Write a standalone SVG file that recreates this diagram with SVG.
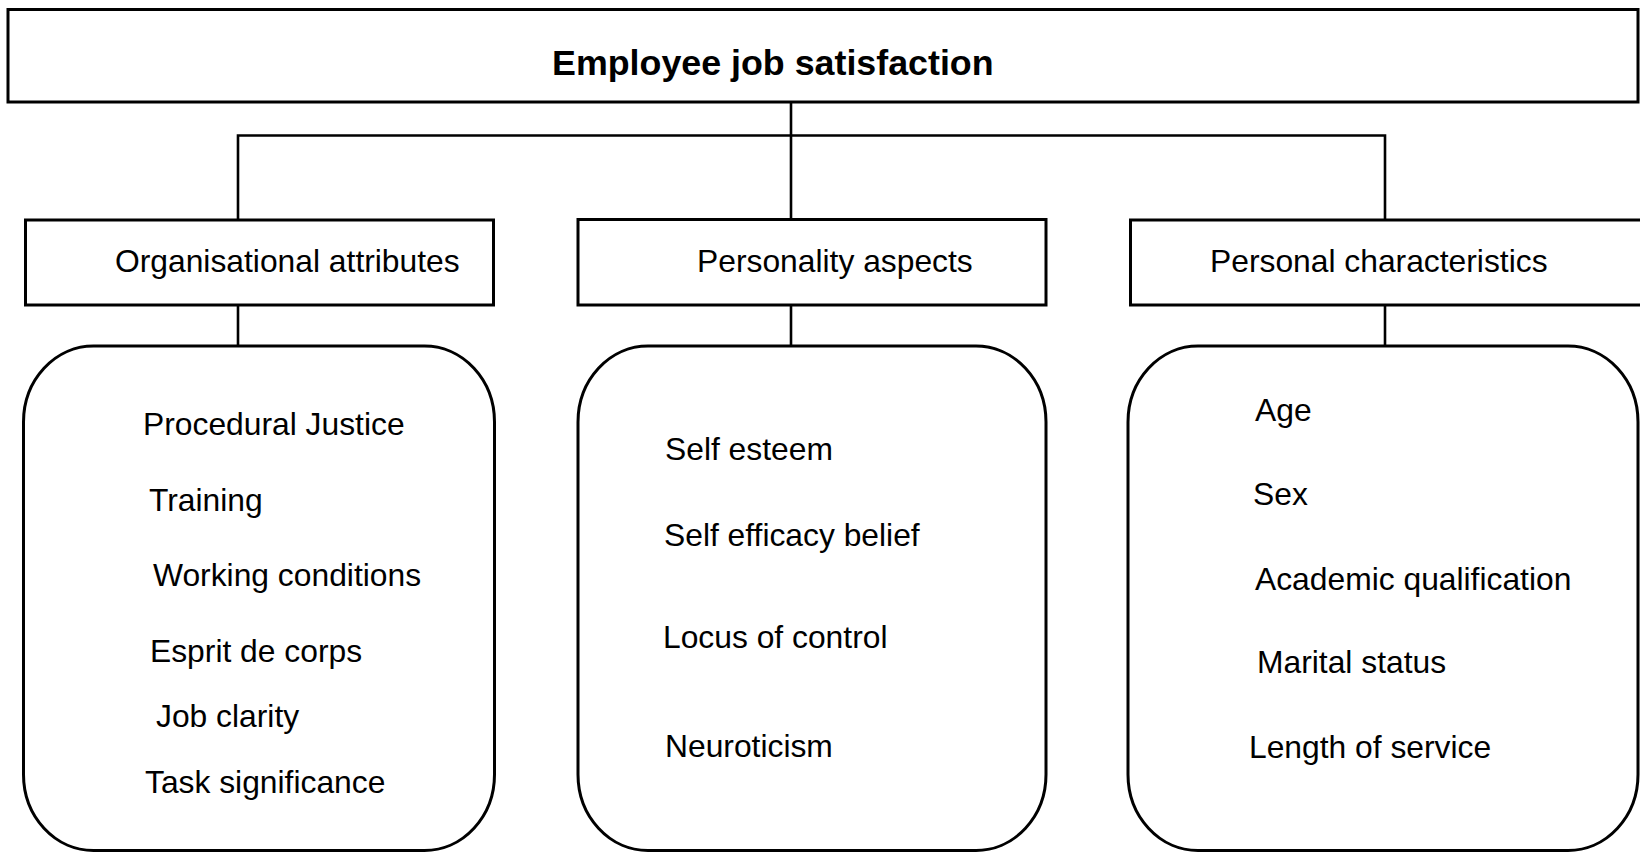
<svg xmlns="http://www.w3.org/2000/svg" width="1640" height="852" viewBox="0 0 1640 852">
<style>
.box{fill:#fff;stroke:#000;stroke-width:3}
.ln{fill:none;stroke:#000;stroke-width:2.6}
.t{font-family:"Liberation Sans",Arial,sans-serif;font-size:31.8px;fill:#000}
.title{font-family:"Liberation Sans",Arial,sans-serif;font-size:35.8px;font-weight:bold;fill:#000}
</style>
<rect width="1640" height="852" fill="#fff"/>
<g id="connectors">
<line class="ln" x1="791" y1="102" x2="791" y2="220"/>
<polyline class="ln" points="238,220 238,135.5 1385,135.5 1385,220"/>
<line class="ln" x1="238" y1="305" x2="238" y2="346"/>
<line class="ln" x1="791" y1="305" x2="791" y2="346"/>
<line class="ln" x1="1385" y1="305" x2="1385" y2="346"/>
</g>
<g id="root">
<rect class="box" x="8" y="9.5" width="1630" height="92.5"/>
<text class="title" x="552" y="75">Employee job satisfaction</text>
</g>
<g id="org">
<rect class="box" x="25.5" y="220" width="468" height="85"/>
<text class="t" x="115" y="272">Organisational attributes</text>
</g>
<g id="pers">
<rect class="box" x="578" y="219.5" width="468" height="85.5"/>
<text class="t" x="697" y="272">Personality aspects</text>
</g>
<g id="char">
<rect class="box" x="1130.5" y="220" width="1508" height="85"/>
<text class="t" x="1210" y="272">Personal characteristics</text>
</g>
<g id="org-list">
<rect class="box" x="23.5" y="346" width="471" height="504.5" rx="70" ry="76"/>
<text class="t" x="143" y="435">Procedural Justice</text>
<text class="t" x="149" y="511">Training</text>
<text class="t" x="153" y="586">Working conditions</text>
<text class="t" x="150" y="662">Esprit de corps</text>
<text class="t" x="156" y="727">Job clarity</text>
<text class="t" x="145" y="793">Task significance</text>
</g>
<g id="pers-list">
<rect class="box" x="578" y="346" width="468" height="504.5" rx="70" ry="76"/>
<text class="t" x="665" y="460">Self esteem</text>
<text class="t" x="664" y="546">Self efficacy belief</text>
<text class="t" x="663" y="648">Locus of control</text>
<text class="t" x="665" y="757">Neuroticism</text>
</g>
<g id="char-list">
<rect class="box" x="1128" y="346" width="510" height="504.5" rx="70" ry="76"/>
<text class="t" x="1255" y="421">Age</text>
<text class="t" x="1253" y="505">Sex</text>
<text class="t" x="1255" y="590">Academic qualification</text>
<text class="t" x="1257" y="673">Marital status</text>
<text class="t" x="1249" y="758">Length of service</text>
</g>
</svg>
